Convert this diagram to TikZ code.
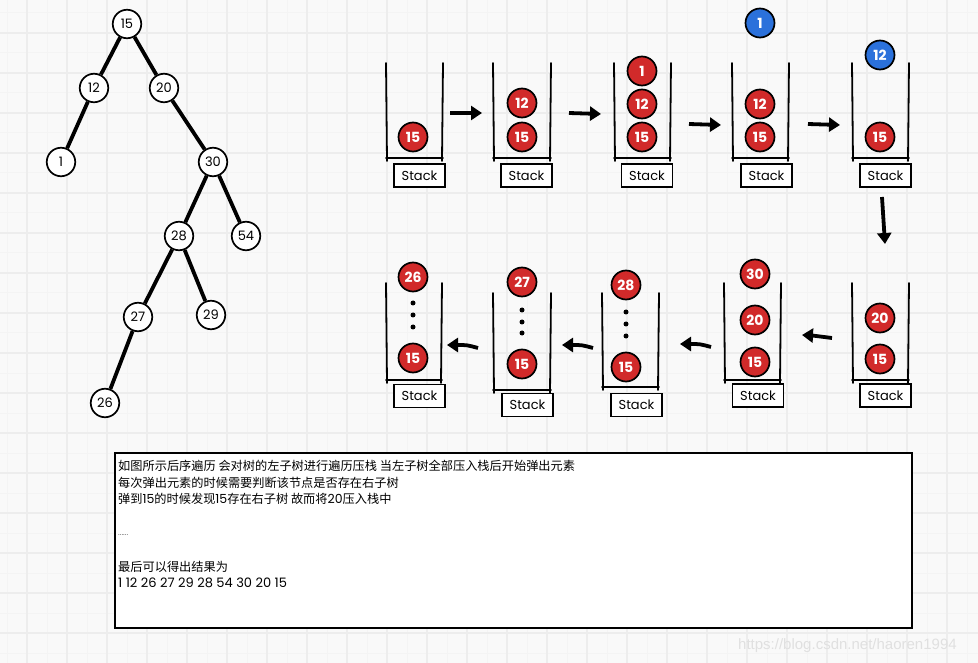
\documentclass[tikz,border=0pt]{standalone}
\usepackage{fontspec}
\setmainfont{Poppins}
\newfontfamily\cjk{Noto Sans CJK SC}
\newfontfamily\wmfont{Liberation Sans}
\usetikzlibrary{arrows.meta,calc}
\definecolor{bgc}{HTML}{F9F9F9}
\definecolor{gmaj}{HTML}{EDEDED}
\definecolor{gmin}{HTML}{F4F4F4}
\definecolor{ballred}{HTML}{D12A2A}
\definecolor{ballblue}{HTML}{2B71DB}
\definecolor{wmc}{HTML}{E0E0E0}
\newcommand\mystack[5]{%
  \coordinate (#1-tl) at (#2-1,#4);
  \coordinate (#1-bl) at (#2,#5);
  \coordinate (#1-br) at (#3,#5);
  \coordinate (#1-tr) at (#3+1,#4);
  \draw[wall] (#1-tl) -- ($(#1-bl)+(0,3)$);
  \draw[wall] ($(#1-bl)+(-1,0)$) -- ($(#1-br)+(1,0)$);
  \draw[wall] (#1-tr) -- ($(#1-br)+(0,3)$);
}
\begin{document}
\begin{tikzpicture}[x=1pt,y=-1pt,
  tnode/.style={circle,draw=black,line width=1.7pt,fill=white,minimum size=28.5pt,inner sep=0pt,font=\fontsize{13}{14}\selectfont},
  tedge/.style={line width=3.8pt},
  rball/.style={circle,draw=black,line width=1.7pt,fill=ballred,minimum size=29pt,inner sep=0pt,text=white,font=\bfseries\fontsize{14}{15}\selectfont},
  bball/.style={rball,fill=ballblue},
  wall/.style={line width=1.8pt,line cap=round},
  lbl/.style={draw=black,line width=1.9pt,fill=white,minimum width=51pt,minimum height=23pt,inner sep=0pt,font=\fontsize{13}{14}\selectfont},
  arr/.style={line width=3.8pt,-{Triangle[length=11pt,width=14pt]}},
  sdot/.style={circle,fill=black,inner sep=0pt,minimum size=5pt},
  txt/.style={anchor=base west,inner sep=0pt,font=\fontsize{12.2}{14}\selectfont},
  num/.style={font=\fontsize{13}{14}\selectfont}
]
% background and grid
\fill[bgc] (0,0) rectangle (978,663);
\useasboundingbox (0,0) rectangle (978,663);
\foreach \x in {7,47,...,967} \draw[gmin,line width=1pt] (\x,0) -- (\x,663);
\foreach \y in {13,53,...,653} \draw[gmin,line width=1pt] (0,\y) -- (978,\y);
\foreach \x in {27,67,...,967} \draw[gmaj,line width=1.5pt] (\x,0) -- (\x,663);
\foreach \y in {33,73,...,653} \draw[gmaj,line width=1.5pt] (0,\y) -- (978,\y);

% tree
\node[tnode] (n15) at (127,24) {15};
\node[tnode] (n12) at (94,88) {12};
\node[tnode] (n20) at (164,88) {20};
\node[tnode] (n1) at (61,162) {1};
\node[tnode] (n30) at (213,162) {30};
\node[tnode] (n28) at (179,236) {28};
\node[tnode] (n54) at (246,236) {54};
\node[tnode] (n27) at (138,317) {27};
\node[tnode] (n29) at (211,315) {29};
\node[tnode] (n26) at (105,403) {26};
\draw[tedge] (n15) -- (n12);
\draw[tedge] (n15) -- (n20);
\draw[tedge] (n12) -- (n1);
\draw[tedge] (n20) -- (n30);
\draw[tedge] (n30) -- (n28);
\draw[tedge] (n30) -- (n54);
\draw[tedge] (n28) -- (n27);
\draw[tedge] (n28) -- (n29);
\draw[tedge] (n27) -- (n26);

% top row stacks
\mystack{s1}{387}{442}{63}{158}
\mystack{s2}{494}{550}{63}{158}
\mystack{s3}{615}{670}{63}{158}
\mystack{s4}{733}{788}{63}{158}
\mystack{s5}{853}{908}{63}{158}
\node[lbl] (l1) at (419.5,175.5) {Stack};
\node[lbl] (l2) at (526.5,175.5) {Stack};
\node[lbl] (l3) at (647,175.5) {Stack};
\node[lbl] (l4) at (766.5,175.5) {Stack};
\node[lbl] (l5) at (885.5,175.5) {Stack};

\node[rball] (s1b15) at (413,137) {15};
\node[rball] (s2b12) at (522,103) {12};
\node[rball] (s2b15) at (522,137) {15};
\node[rball] (s3b1) at (642,71) {1};
\node[rball] (s3b12) at (642,104) {12};
\node[rball] (s3b15) at (642,137) {15};
\node[bball] (s4b1) at (760,23) {1};
\node[rball] (s4b12) at (760,104) {12};
\node[rball] (s4b15) at (760,137) {15};
\node[bball] (s5b12) at (880,55) {12};
\node[rball] (s5b15) at (880,137) {15};

% bottom row stacks
\mystack{sa}{387}{441}{283}{380}
\mystack{sb}{494}{550}{293}{390}
\mystack{sc}{603}{658}{293}{387}
\mystack{sd}{725}{780}{283}{380}
\mystack{se}{853}{908}{283}{380}
\node[lbl] (la) at (419.5,396) {Stack};
\node[lbl] (lb) at (527.5,405) {Stack};
\node[lbl] (lc) at (636.5,405) {Stack};
\node[lbl] (ld) at (758,395.5) {Stack};
\node[lbl] (le) at (885.5,395.5) {Stack};

\node[rball] (sab26) at (413,277) {26};
\node[sdot] (sad1) at (413,303) {};
\node[sdot] (sad2) at (413,315) {};
\node[sdot] (sad3) at (413,327) {};
\node[rball] (sab15) at (413,358) {15};
\node[rball] (sbb27) at (522,282) {27};
\node[sdot] (sbd1) at (522,310) {};
\node[sdot] (sbd2) at (522,322) {};
\node[sdot] (sbd3) at (522,333) {};
\node[rball] (sbb15) at (522,364) {15};
\node[rball] (scb28) at (626,285) {28};
\node[sdot] (scd1) at (626,312) {};
\node[sdot] (scd2) at (626,324) {};
\node[sdot] (scd3) at (626,336) {};
\node[rball] (scb15) at (626,367) {15};
\node[rball] (sdb30) at (755,274) {30};
\node[rball] (sdb20) at (755,320) {20};
\node[rball] (sdb15) at (755,362) {15};
\node[rball] (seb20) at (880,318) {20};
\node[rball] (seb15) at (880,359) {15};

% arrows
\coordinate (a1s) at (450,113); \coordinate (a1e) at (482,113);
\coordinate (a2s) at (569,113); \coordinate (a2e) at (601,114);
\coordinate (a3s) at (689,124); \coordinate (a3e) at (721,125);
\coordinate (a4s) at (808,124); \coordinate (a4e) at (840,125);
\coordinate (a5s) at (882,197); \coordinate (a5e) at (885,244);
\coordinate (a6s) at (832,338); \coordinate (a6e) at (802,335);
\coordinate (a7s) at (711,347); \coordinate (a7e) at (680,344);
\coordinate (a8s) at (593,348); \coordinate (a8e) at (562,345);
\coordinate (a9s) at (478,348); \coordinate (a9e) at (447,345);
\draw[arr] (a1s) -- (a1e);
\draw[arr] (a2s) -- (a2e);
\draw[arr] (a3s) -- (a3e);
\draw[arr] (a4s) -- (a4e);
\draw[arr] (a5s) -- (a5e);
\draw[arr] (a6s) .. controls (822,336) .. (a6e);
\draw[arr] (a7s) .. controls (700,344) .. (a7e);
\draw[arr] (a8s) .. controls (582,345) .. (a8e);
\draw[arr] (a9s) .. controls (467,345) .. (a9e);

% text box
\node[draw=black,line width=2pt,fill=white,minimum width=797pt,minimum height=175pt,anchor=north west,inner sep=0pt] (box) at (113.5,451.5) {};
\node[txt] (t1) at (118,470) {\cjk 如图所示后序遍历 会对树的左子树进行遍历压栈 当左子树全部压入栈后开始弹出元素};
\node[txt] (t2) at (118,487) {\cjk 每次弹出元素的时候需要判断该节点是否存在右子树};
\node[txt] (t3) at (118,503) {{\cjk 弹到}{\fontsize{12.5}{14}\selectfont 15}{\cjk 的时候发现}{\fontsize{12.5}{14}\selectfont 15}{\cjk 存在右子树 故而将}{\fontsize{12.5}{14}\selectfont 20}{\cjk 压入栈中}};
\node[txt,font=\fontsize{8}{10}\selectfont,text=black!60] (t4) at (118,535) {......};
\node[txt] (t5) at (118,571) {\cjk 最后可以得出结果为};
\node[txt,num] (t6) at (118,587) {1 12 26 27 29 28 54 30 20 15};

% watermark
\node[anchor=base west,inner sep=0pt,text=wmc,font=\wmfont\fontsize{15}{17}\selectfont] (wm) at (738,649) {https://blog.csdn.net/haoren1994};
\end{tikzpicture}
\end{document}
